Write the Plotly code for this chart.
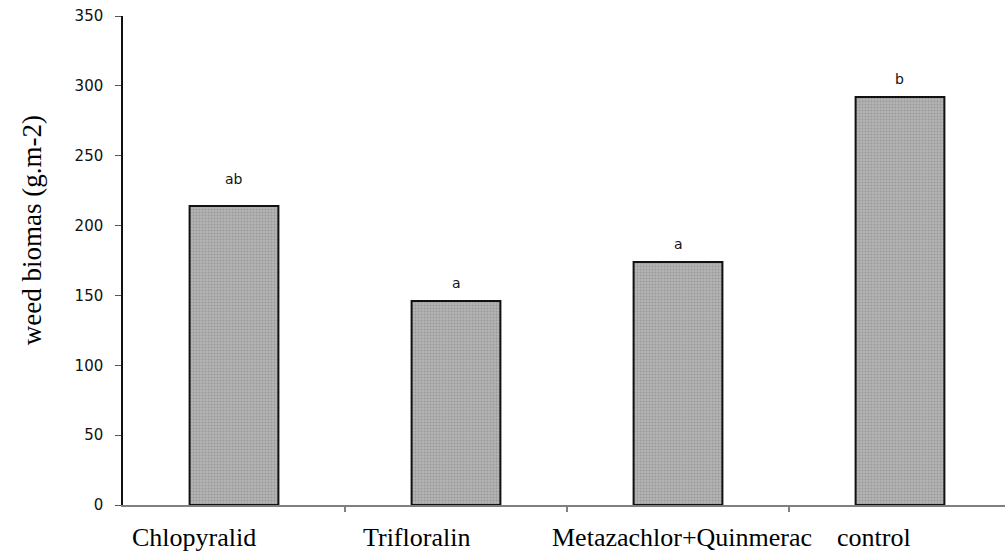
import plotly.graph_objects as go

# Weed biomass per herbicide treatment with significance letters
treatments = ["Chlopyralid", "Trifloralin", "Metazachlor+Quinmerac", "control"]
biomass = [214, 146, 174, 292]
letters = ["ab", "a", "a", "b"]
y_ticks = [0, 50, 100, 150, 200, 250, 300, 350]

# small per-label nudges (pixels) for the treatment names and letters
name_shift = [-40, -40, 4, -26]
letter_lift = [17, 8, 8, 8]

xs = list(range(len(treatments)))

fig = go.Figure()
fig.add_trace(go.Bar(
    x=xs,
    y=biomass,
    width=0.4,
    marker=dict(
        color="#a9a9a9",
        line=dict(color="#111111", width=2),
        pattern=dict(shape=".", fgcolor="#7d7d7d", bgcolor="#b4b4b4", size=3, solidity=0.35),
    ),
    hoverinfo="skip",
))

annotations = []
for i, (lab, val, lift) in enumerate(zip(letters, biomass, letter_lift)):
    annotations.append(dict(
        x=i, y=val, xref="x", yref="y", text=lab, showarrow=False,
        yanchor="bottom", yshift=lift,
        font=dict(family="DejaVu Sans, Arial", size=14, color="#111111"),
    ))
for i, (name, dx) in enumerate(zip(treatments, name_shift)):
    annotations.append(dict(
        x=i, y=0, xref="x", yref="paper", text=name, showarrow=False,
        yanchor="top", yshift=-16, xshift=dx,
        font=dict(family="Liberation Serif, Times New Roman", size=26, color="#000000"),
    ))
annotations.append(dict(
    x=0, y=0.562, xref="paper", yref="paper", text="weed biomas (g.m-2)",
    showarrow=False, textangle=-90, xshift=-91, xanchor="center", yanchor="middle",
    font=dict(family="Liberation Serif, Times New Roman", size=27, color="#000000"),
))

fig.update_layout(
    width=1005, height=556,
    margin=dict(l=123, r=0, t=16, b=51),
    paper_bgcolor="white", plot_bgcolor="white",
    showlegend=False,
    annotations=annotations,
    xaxis=dict(
        range=[-0.5, 3.473],
        tickvals=[0.5, 1.5, 2.5], ticktext=["", "", ""],
        ticks="outside", ticklen=5, tickcolor="#808080", tickwidth=1.5,
        showline=True, linecolor="#808080", linewidth=2,
        showgrid=False, zeroline=False,
    ),
    yaxis=dict(
        range=[0, 350], tickvals=y_ticks,
        ticks="outside", ticklen=6, tickcolor="#555555", tickwidth=1,
        ticklabelstandoff=9,
        showline=True, linecolor="#111111", linewidth=1.5,
        showgrid=False, zeroline=False,
        tickfont=dict(family="DejaVu Sans, Arial", size=15, color="#111111"),
    ),
)

fig.write_html("out.html")
